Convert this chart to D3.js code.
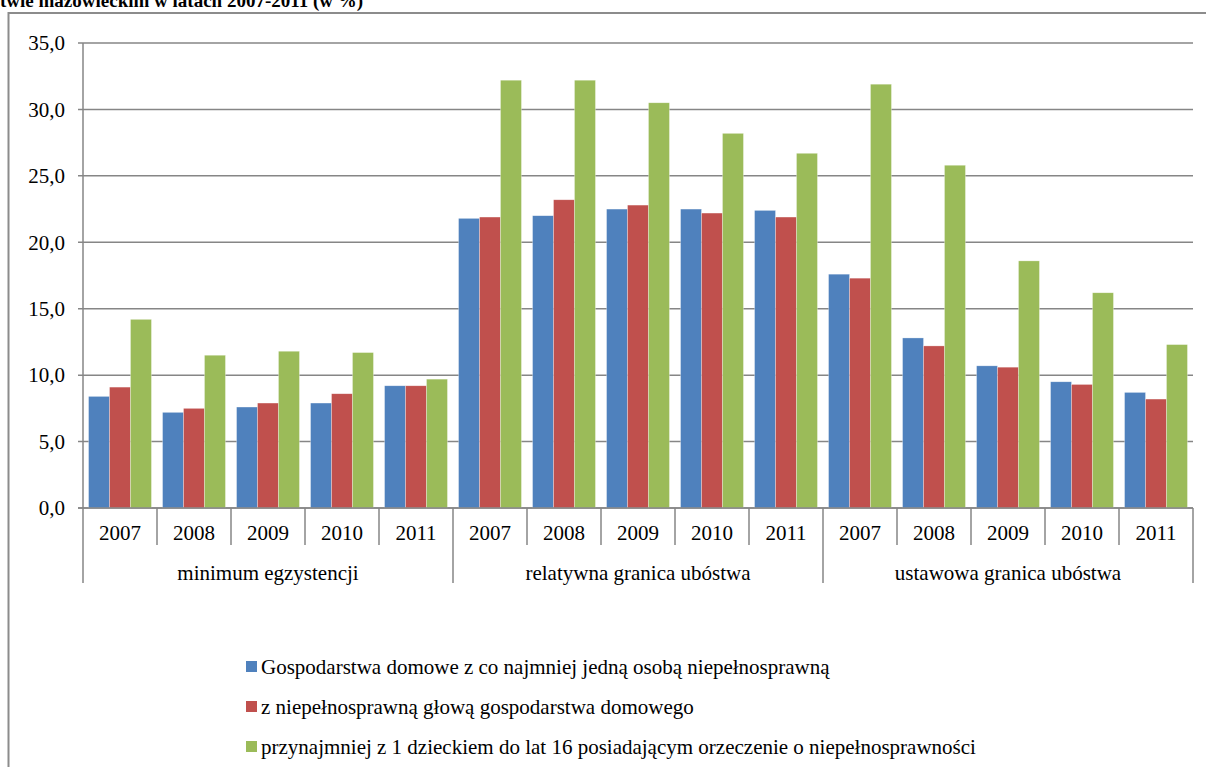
<!DOCTYPE html>
<html>
<head>
<meta charset="utf-8">
<script src="https://cdn.jsdelivr.net/npm/d3@7"></script>
</head>
<body style="margin:0; background:#fff">
<svg id="chart"></svg>
<script>
const groups = ["minimum egzystencji", "relatywna granica ubóstwa", "ustawowa granica ubóstwa"];
const years = ["2007", "2008", "2009", "2010", "2011"];
const seriesNames = [
    "Gospodarstwa domowe z co najmniej jedną osobą niepełnosprawną",
    "z niepełnosprawną głową gospodarstwa domowego",
    "przynajmniej z 1 dzieckiem do lat 16 posiadającym orzeczenie o niepełnosprawności"
];
const seriesColors = ["#4F81BD", "#C0504D", "#9BBB59"];
// values per series, ordered group by group, year by year
const householdsAny = [8.4, 7.2, 7.6, 7.9, 9.2, 21.8, 22.0, 22.5, 22.5, 22.4, 17.6, 12.8, 10.7, 9.5, 8.7];
const householdsHead = [9.1, 7.5, 7.9, 8.6, 9.2, 21.9, 23.2, 22.8, 22.2, 21.9, 17.3, 12.2, 10.6, 9.3, 8.2];
const householdsChild = [14.2, 11.5, 11.8, 11.7, 9.7, 32.2, 32.2, 30.5, 28.2, 26.7, 31.9, 25.8, 18.6, 16.2, 12.3];
const yTicks = [0, 5, 10, 15, 20, 25, 30, 35];

const W = 1206, H = 767;
const margin = { left: 83, right: 13, top: 43, bottom: 259 };
const plotW = W - margin.left - margin.right;
const plotH = H - margin.top - margin.bottom;
const serif = "\"Liberation Serif\"";

const svg = d3.select("#chart").attr("width", W).attr("height", H).style("display", "block");

// title (cut at the top, as in the source)
svg.append("text")
    .attr("x", 0)
    .attr("y", 7)
    .style("font-family", serif)
    .style("font-size", "19px")
    .style("font-weight", "bold")
    .text("twie mazowieckim w latach 2007-2011 (w %)");

// outer chart frame
svg.append("rect")
    .attr("x", 8.5)
    .attr("y", 13)
    .attr("width", W + 10)
    .attr("height", H + 10)
    .attr("fill", "none")
    .attr("stroke", "#8c8c8c")
    .attr("stroke-width", 2);

const g = svg.append("g").attr("transform", `translate(${margin.left},${margin.top})`);

const cats = [];
groups.forEach(gr => years.forEach(y => cats.push(gr + "|" + y)));

const x0 = d3.scaleBand().domain(cats).range([0, plotW]).padding(0);
const bw = x0.bandwidth();
const x1 = d3.scaleBand().domain([0, 1, 2]).range([bw * 0.075, bw * 0.925]).padding(0);
const y = d3.scaleLinear().domain([0, 35]).range([plotH, 0]);

// gridlines
g.append("g")
    .selectAll("line")
    .data(yTicks)
    .join("line")
    .attr("x1", -5)
    .attr("x2", plotW)
    .attr("y1", d => y(d))
    .attr("y2", d => y(d))
    .attr("stroke", "#868686")
    .attr("stroke-width", 1.5);

// y tick labels
g.append("g")
    .selectAll("text")
    .data(yTicks)
    .join("text")
    .attr("x", -18)
    .attr("y", d => y(d))
    .attr("dy", "0.35em")
    .attr("text-anchor", "end")
    .style("font-family", serif)
    .style("font-size", "21px")
    .text(d => d3.format(".1f")(d).replace(".", ","));

// y axis line
g.append("line")
    .attr("x1", 0).attr("x2", 0)
    .attr("y1", 0).attr("y2", plotH)
    .attr("stroke", "#868686")
    .attr("stroke-width", 1.5);

// bars
const allSeries = [householdsAny, householdsHead, householdsChild];
allSeries.forEach((vals, si) => {
    g.append("g")
        .selectAll("rect")
        .data(vals)
        .join("rect")
        .attr("x", (d, i) => x0(cats[i]) + x1(si))
        .attr("width", x1.bandwidth())
        .attr("y", d => y(d))
        .attr("height", d => plotH - y(d))
        .attr("fill", seriesColors[si])
        .attr("stroke", "rgba(255,255,255,0.5)")
        .attr("stroke-width", 0.6);
});

// x axis baseline
g.append("line")
    .attr("x1", -5).attr("x2", plotW)
    .attr("y1", plotH).attr("y2", plotH)
    .attr("stroke", "#868686")
    .attr("stroke-width", 1.5);

// year ticks and group separators
const tickXs = d3.range(cats.length + 1).map(i => i * bw);
g.append("g")
    .selectAll("line")
    .data(tickXs)
    .join("line")
    .attr("x1", d => d).attr("x2", d => d)
    .attr("y1", plotH)
    .attr("y2", (d, i) => i % years.length === 0 ? plotH + 75 : plotH + 37)
    .attr("stroke", "#868686")
    .attr("stroke-width", 1.5);

g.append("g")
    .selectAll("text")
    .data(cats)
    .join("text")
    .attr("x", d => x0(d) + bw / 2)
    .attr("y", plotH + 25)
    .attr("dy", "0.35em")
    .attr("text-anchor", "middle")
    .style("font-family", serif)
    .style("font-size", "21px")
    .text(d => d.split("|")[1]);

g.append("g")
    .selectAll("text")
    .data(groups)
    .join("text")
    .attr("x", (d, i) => (i * years.length + years.length / 2) * bw)
    .attr("y", plotH + 65)
    .attr("dy", "0.35em")
    .attr("text-anchor", "middle")
    .style("font-family", serif)
    .style("font-size", "21px")
    .text(d => d);

// legend
const legend = svg.append("g").attr("transform", "translate(246,661)");
const items = legend.selectAll("g")
    .data(seriesNames)
    .join("g")
    .attr("transform", (d, i) => `translate(0,${i * 40})`);
items.append("rect")
    .attr("width", 11)
    .attr("height", 11)
    .attr("fill", (d, i) => seriesColors[i]);
items.append("text")
    .attr("x", 15)
    .attr("y", 6)
    .attr("dy", "0.35em")
    .style("font-family", serif)
    .style("font-size", "21px")
    .text(d => d);
</script>
</body>
</html>
